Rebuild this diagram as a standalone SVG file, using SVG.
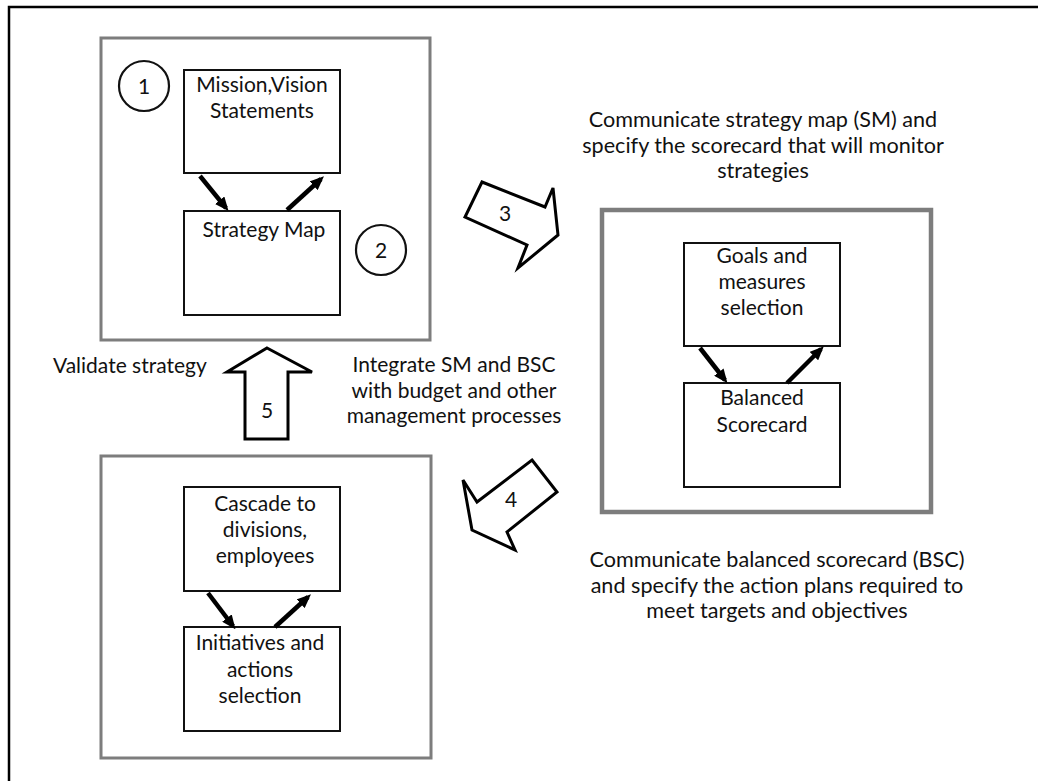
<svg xmlns="http://www.w3.org/2000/svg" width="1038" height="781" viewBox="0 0 1038 781">
  <style>
    .frame { fill: none; stroke: #000; stroke-width: 2.5; }
    .panel { fill: #fff; stroke: #7d7d7d; stroke-width: 3; }
    .panel-thick { fill: #fff; stroke: #7d7d7d; stroke-width: 4.5; }
    .box { fill: #fff; stroke: #111; stroke-width: 2; }
    .badge { fill: #fff; stroke: #111; stroke-width: 2.2; }
    .flow { fill: #fff; stroke: #000; stroke-width: 3; stroke-linejoin: miter; }
    .link { stroke: #000; stroke-width: 4.5; fill: none; }
    text { font-family: Lato, "Open Sans", "Liberation Sans", sans-serif; font-size: 21px; fill: #111; }
    .big { font-size: 21.6px; }
    .c { text-anchor: middle; }
  </style>
  <defs>
    <marker id="head" markerUnits="userSpaceOnUse" markerWidth="14" markerHeight="12" refX="10" refY="6" orient="auto">
      <path d="M0,0 L14,6 L0,12 Z" fill="#000"/>
    </marker>
  </defs>

  <rect width="1038" height="781" fill="#fff"/>
  <!-- page frame (top and left rules) -->
  <path class="frame" d="M9,781 V7 H1038"/>

  <!-- stage 1: mission / strategy map -->
  <g id="panel-strategy">
    <rect class="panel" x="101" y="38" width="329" height="302"/>
    <g id="badge-1">
      <circle class="badge" cx="144" cy="86" r="25"/>
      <text class="c" x="144" y="94">1</text>
    </g>
    <g id="node-mission">
      <rect class="box" x="184" y="70" width="156" height="103"/>
      <text class="c" x="262" y="92">Mission,Vision</text>
      <text class="c" x="262" y="118">Statements</text>
    </g>
    <g id="node-strategy-map">
      <rect class="box" x="184" y="211" width="156" height="104"/>
      <text class="c" x="264" y="237">Strategy Map</text>
    </g>
    <g id="badge-2">
      <circle class="badge" cx="381" cy="250" r="25"/>
      <text class="c" x="381" y="258">2</text>
    </g>
  </g>

  <!-- stage 2: goals / balanced scorecard -->
  <g id="panel-scorecard">
    <rect class="panel-thick" x="602" y="210" width="329" height="302"/>
    <g id="node-goals">
      <rect class="box" x="684" y="243" width="156" height="103"/>
      <text class="c" x="762" y="263">Goals and</text>
      <text class="c" x="762" y="289">measures</text>
      <text class="c" x="762" y="315">selection</text>
    </g>
    <g id="node-bsc">
      <rect class="box" x="684" y="383" width="156" height="104"/>
      <text class="c" x="762" y="405">Balanced</text>
      <text class="c" x="762" y="432">Scorecard</text>
    </g>
  </g>

  <!-- stage 3: cascade / initiatives -->
  <g id="panel-cascade">
    <rect class="panel" x="101" y="456" width="330" height="302"/>
    <g id="node-cascade">
      <rect class="box" x="184" y="487" width="156" height="104"/>
      <text class="c" x="265" y="511">Cascade to</text>
      <text class="c" x="265" y="537">divisions,</text>
      <text class="c" x="265" y="563">employees</text>
    </g>
    <g id="node-initiatives">
      <rect class="box" x="184" y="627" width="156" height="104"/>
      <text class="c" x="260" y="650">Initiatives and</text>
      <text class="c" x="260" y="677">actions</text>
      <text class="c" x="260" y="703">selection</text>
    </g>
  </g>

  <!-- step labels -->
  <g id="label-step3">
    <text class="c big" x="763" y="127">Communicate strategy map (SM) and</text>
    <text class="c big" x="763" y="153">specify the scorecard that will monitor</text>
    <text class="c big" x="763" y="178">strategies</text>
  </g>
  <g id="label-step4">
    <text class="c big" x="777" y="567">Communicate balanced scorecard (BSC)</text>
    <text class="c big" x="777" y="593">and specify the action plans required to</text>
    <text class="c big" x="777" y="618">meet targets and objectives</text>
  </g>
  <g id="label-step5">
    <text x="53" y="373">Validate strategy</text>
  </g>
  <g id="label-integrate">
    <text class="c" x="454" y="372">Integrate SM and BSC</text>
    <text class="c" x="454" y="398">with budget and other</text>
    <text class="c" x="454" y="423">management processes</text>
  </g>

  <!-- connectors -->
  <g id="connectors">
    <!-- block arrows between stages -->
    <g id="flow-3">
      <polygon class="flow" points="482,182 545,207 553,188 558,235 518,268 527,245 465,217"/>
      <text class="c" x="505" y="221">3</text>
    </g>
    <g id="flow-4">
      <polygon class="flow" points="532,460 557,492 507,532 515,550 472,530 463,480 477,502"/>
      <text class="c" x="511" y="507">4</text>
    </g>
    <g id="flow-5">
      <polygon class="flow" points="267,348 312,372 288,372 288,439 245,439 245,372 227,372"/>
      <text class="c" x="267" y="418">5</text>
    </g>
    <!-- two-way links inside each stage -->
    <line class="link" x1="200" y1="176" x2="226" y2="208" marker-end="url(#head)"/>
    <line class="link" x1="287" y1="210" x2="321" y2="179" marker-end="url(#head)"/>
    <line class="link" x1="700" y1="348" x2="725" y2="380" marker-end="url(#head)"/>
    <line class="link" x1="787" y1="383" x2="821" y2="349" marker-end="url(#head)"/>
    <line class="link" x1="208" y1="593" x2="233" y2="626" marker-end="url(#head)"/>
    <line class="link" x1="275" y1="627" x2="308" y2="597" marker-end="url(#head)"/>
  </g>
</svg>
